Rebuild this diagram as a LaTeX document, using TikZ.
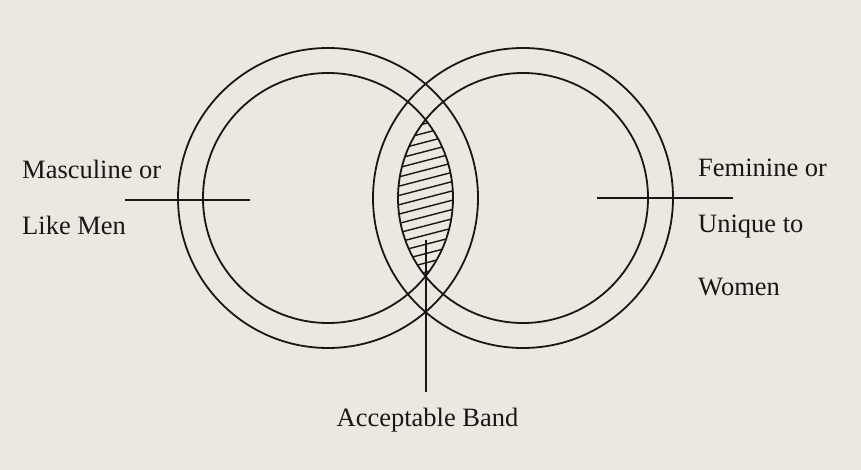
\documentclass[tikz,border=0pt]{standalone}
\usepackage{fontspec}
\setmainfont{Liberation Serif}
\definecolor{paper}{RGB}{235,232,225}
\definecolor{ink}{RGB}{25,23,20}
\begin{document}
\begin{tikzpicture}[x=1pt,y=1pt,
  ring/.style={draw=ink,line width=1.8pt},
  lbl/.style={inner sep=0pt,anchor=base west,text=ink,font=\fontsize{26.5}{30}\selectfont},
  lead/.style={draw=ink,line width=1.8pt}]
\fill[paper] (0,0) rectangle (861,-470);
\useasboundingbox (0,0) rectangle (861,-470);
\coordinate (L) at (328,-198);
\coordinate (R) at (523,-198);
% hatching in the lens
\begin{scope}
  \clip (L) circle[radius=125];
  \clip (R) circle[radius=125];
  \foreach \k in {-11,...,11}
    \draw[ink,line width=1.4pt] (370,{-198+\k*9.3-14.3}) -- (480,{-198+\k*9.3+14.3});
\end{scope}
\draw[ring] (L) circle[radius=150];
\draw[ring] (L) circle[radius=125];
\draw[ring] (R) circle[radius=150];
\draw[ring] (R) circle[radius=125];
% leader lines
\coordinate (l1) at (125,-200);
\coordinate (l2) at (250,-200);
\coordinate (r1) at (597,-198);
\coordinate (r2) at (733,-198);
\coordinate (v1) at (426,-240);
\coordinate (v2) at (426,-392);
\draw[lead] (l1) -- (l2);
\draw[lead] (r1) -- (r2);
\draw[lead] (v1) -- (v2);
% labels
\node[lbl] (m1) at (22,-179) {Masculine or};
\node[lbl] (m2) at (22,-235) {Like Men};
\node[lbl] (f1) at (698,-177) {Feminine or};
\node[lbl] (f2) at (698,-233) {Unique to};
\node[lbl] (f3) at (698,-295) {Women};
\node[lbl,anchor=base] (ab) at (427.5,-426) {Acceptable Band};
\end{tikzpicture}
\end{document}
